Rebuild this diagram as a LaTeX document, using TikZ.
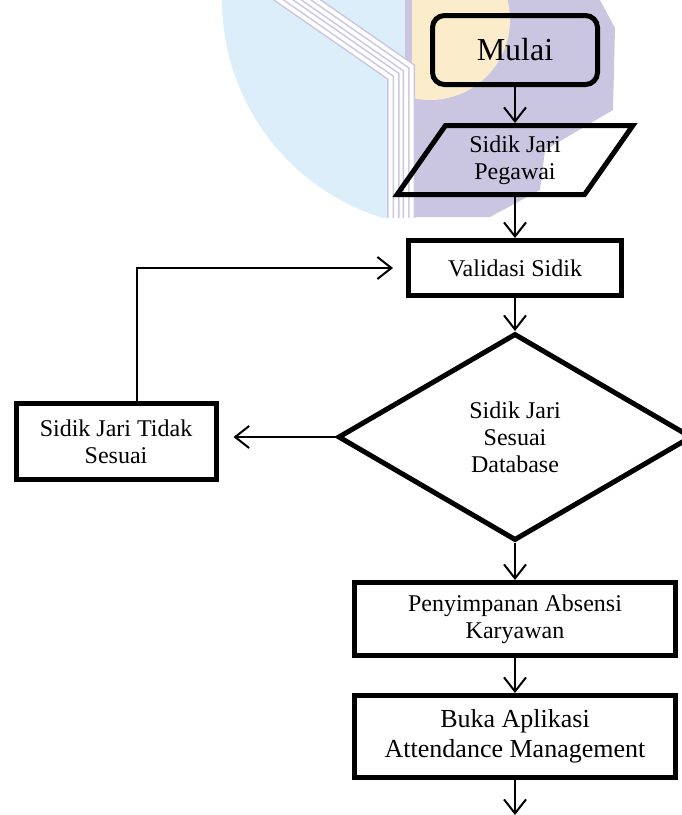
\documentclass[tikz,border=0pt]{standalone}
\usepackage{fontspec}
\setmainfont{Liberation Serif}
\usepackage{xcolor}
\definecolor{wmblue}{HTML}{DCEEF9}
\definecolor{wmpurple}{HTML}{CAC6E1}
\definecolor{wmyellow}{HTML}{FBECCB}
\usepackage{tikz}
\usetikzlibrary{arrows.meta}
\usetikzlibrary{shapes.geometric}
\usetikzlibrary{calc}

\begin{document}
\begin{tikzpicture}[x=1pt, y=-1pt,
    box/.style={draw, line width=5pt, align=center, inner sep=0pt,
      font=\fontsize{24}{27}\selectfont},
    flow/.style={line width=2pt, -{Straight Barb[length=14pt,width=22pt]}}]
  \useasboundingbox (0,0) rectangle (682,815);

  % faint logo behind the top of the chart
  \begin{scope}
    \clip (0,0) rectangle (682,217);
    \begin{scope}
      \clip (0,0) rectangle (410,217);
      \fill[wmblue] (450,0) circle [radius=228];
    \end{scope}
    \fill[wmpurple] (405,0) -- (600,0) -- (615,28) -- (613,110) -- (545,150)
      -- (540,190) -- (490,217) -- (405,217) -- cycle;
    \begin{scope}
      \clip (412,0) rectangle (682,217);
      \fill[wmyellow] (430,20) circle [radius=80];
    \end{scope}
    \foreach \w/\c in {28/wmpurple,25/white,17/wmpurple,14/white,6/wmpurple,3/white}
      \draw[\c, line width=\w pt] (280,-12) -- (401,72) -- (401,230);
  \end{scope}

  \node[box, rounded corners=12pt, minimum width=165pt, minimum height=69pt,
    font=\fontsize{32}{36}\selectfont] (mulai) at (515,50) {Mulai};
  \node[box, trapezium, trapezium left angle=57, trapezium right angle=123,
    trapezium stretches=true, minimum width=236pt, minimum height=69pt]
    (inp) at (515,160) {Sidik Jari\\Pegawai};
  \node[box, minimum width=213pt, minimum height=55pt] (validasi) at (515,268) {Validasi Sidik};
  \node[box, diamond, minimum width=354pt, minimum height=207pt] (cek) at (515,437)
    {Sidik Jari\\Sesuai\\Database};
  \node[box, minimum width=200pt, minimum height=76pt] (tidak) at (116,441.5)
    {Sidik Jari Tidak\\Sesuai};
  \node[box, minimum width=321pt, minimum height=73pt] (simpan) at (515,619)
    {Penyimpanan Absensi\\Karyawan};
  \node[box, minimum width=321pt, minimum height=82pt, font=\fontsize{26}{30}\selectfont]
    (buka) at (515,736.5) {Buka Aplikasi\\Attendance Management};
  \coordinate (akhir) at (515,815);

  \draw[flow] (mulai) -- (inp);
  \draw[flow] (inp) -- (validasi);
  \draw[flow] (validasi) -- (cek);
  \draw[flow, shorten >=15pt] (cek.west) -- (cek.west -| tidak.east); % tidak sesuai
  \draw[flow, shorten >=13pt] ([xshift=21pt]tidak.north) |- (validasi.west);
  \draw[flow] (cek) -- (simpan);
  \draw[flow] (simpan) -- (buka);
  \draw[flow] (buka) -- (akhir);
\end{tikzpicture}
\end{document}
